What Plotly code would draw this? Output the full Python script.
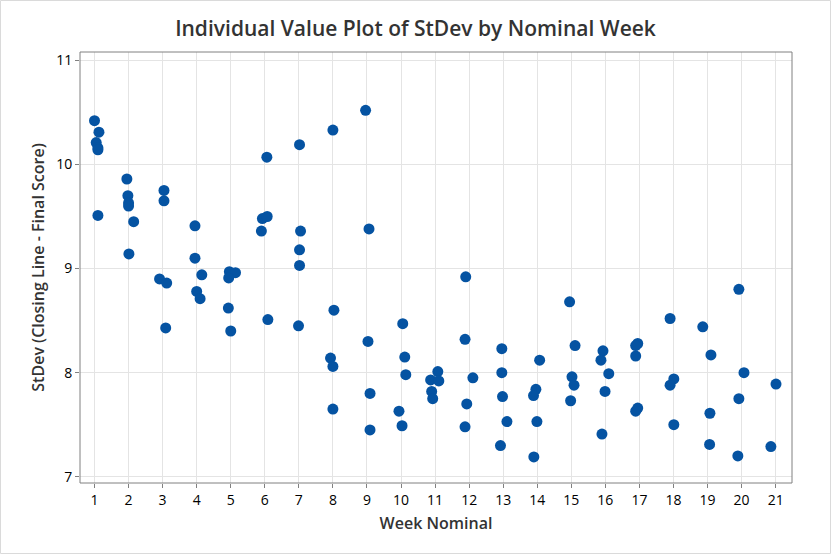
import plotly.graph_objects as go

# week position (as plotted, with Minitab's jitter) and StDev
week_x = [
    1.00, 1.13, 1.05, 1.10, 1.10, 1.10,
    1.95, 1.98, 2.00, 2.00, 2.15, 2.01,
    3.04, 3.04, 2.91, 3.12, 3.09,
    3.95, 3.95, 4.15, 4.00, 4.10,
    4.96, 5.14, 4.94, 4.93, 5.00,
    6.06, 5.93, 6.07, 5.90, 6.09,
    7.02, 7.05, 7.02, 7.02, 6.99,
    8.00, 8.03, 7.93, 8.00, 8.00,
    8.96, 9.06, 9.03, 9.09, 9.09,
    10.05, 10.11, 10.14, 9.94, 10.03,
    10.87, 11.08, 11.11, 10.90, 10.93,
    11.90, 11.88, 12.11, 11.93, 11.88,
    12.96, 12.96, 12.98, 13.11, 12.92,
    14.07, 13.96, 13.89, 13.99, 13.90,
    14.95, 15.11, 15.02, 15.08, 14.98,
    15.93, 15.87, 16.10, 15.99, 15.90,
    16.95, 16.89, 16.89, 16.95, 16.89,
    17.90, 18.01, 17.90, 18.01,
    18.86, 19.10, 19.07, 19.06,
    19.92, 20.07, 19.92, 19.89,
    21.01, 20.86,
]
stdev = [
    10.42, 10.31, 10.21, 10.16, 10.14, 9.51,
    9.86, 9.70, 9.63, 9.60, 9.45, 9.14,
    9.75, 9.65, 8.90, 8.86, 8.43,
    9.41, 9.10, 8.94, 8.78, 8.71,
    8.97, 8.96, 8.91, 8.62, 8.40,
    10.07, 9.48, 9.50, 9.36, 8.51,
    10.19, 9.36, 9.18, 9.03, 8.45,
    10.33, 8.60, 8.14, 8.06, 7.65,
    10.52, 9.38, 8.30, 7.80, 7.45,
    8.47, 8.15, 7.98, 7.63, 7.49,
    7.93, 8.01, 7.92, 7.82, 7.75,
    8.92, 8.32, 7.95, 7.70, 7.48,
    8.23, 8.00, 7.77, 7.53, 7.30,
    8.12, 7.84, 7.78, 7.53, 7.19,
    8.68, 8.26, 7.96, 7.88, 7.73,
    8.21, 8.12, 7.99, 7.82, 7.41,
    8.28, 8.26, 8.16, 7.66, 7.63,
    8.52, 7.94, 7.88, 7.50,
    8.44, 8.17, 7.61, 7.31,
    8.80, 8.00, 7.75, 7.20,
    7.89, 7.29,
]
weeks = list(range(1, 22))
y_ticks = [7, 8, 9, 10, 11]

fnt = "Open Sans, Noto Sans, sans-serif"

fig = go.Figure()
fig.add_trace(go.Scatter(
    x=week_x, y=stdev, mode="markers",
    marker=dict(size=11, color="#0553A2"),
    hoverinfo="x+y",
))

fig.update_layout(
    width=831, height=554,
    paper_bgcolor="white", plot_bgcolor="white",
    margin=dict(l=80, r=39, t=52, b=71),
    showlegend=False,
    font=dict(family=fnt, color="#000000"),
    title=dict(text="Individual Value Plot of StDev by Nominal Week",
               x=0.5, xanchor="center", y=0.949, yanchor="middle",
               font=dict(size=21, color="#333333", family=fnt, weight=600)),
    shapes=[dict(type="rect", xref="paper", yref="paper", x0=0, y0=0, x1=1, y1=1,
                 line=dict(color="#808080", width=1), layer="above"),
            dict(type="rect", xref="paper", yref="paper",
                 x0=-79.5 / 712, x1=1 + 38.5 / 712, y0=-70.5 / 431, y1=1 + 51.5 / 431,
                 line=dict(color="#DADADA", width=1))],
)
fig.update_xaxes(
    range=[0.574, 21.48], tickvals=weeks, ticks="outside", ticklen=4,
    tickcolor="#808080", showgrid=True, gridcolor="#E4E4E4", zeroline=False,
    showline=False, tickfont=dict(size=14, weight=500),
    title=dict(text="Week Nominal", font=dict(size=16, color="#333333", weight=600),
               standoff=10),
)
fig.update_yaxes(
    range=[6.94, 11.08], tickvals=y_ticks, ticks="outside", ticklen=4,
    tickcolor="#808080", showgrid=True, gridcolor="#E4E4E4", zeroline=False,
    showline=False, tickfont=dict(size=14, weight=500),
    title=dict(text="StDev (Closing Line - Final Score)",
               font=dict(size=16, color="#333333", weight=600), standoff=7),
)

fig.write_html("out.html", config={"displayModeBar": False},
               post_script="document.body.style.margin='0px';")
